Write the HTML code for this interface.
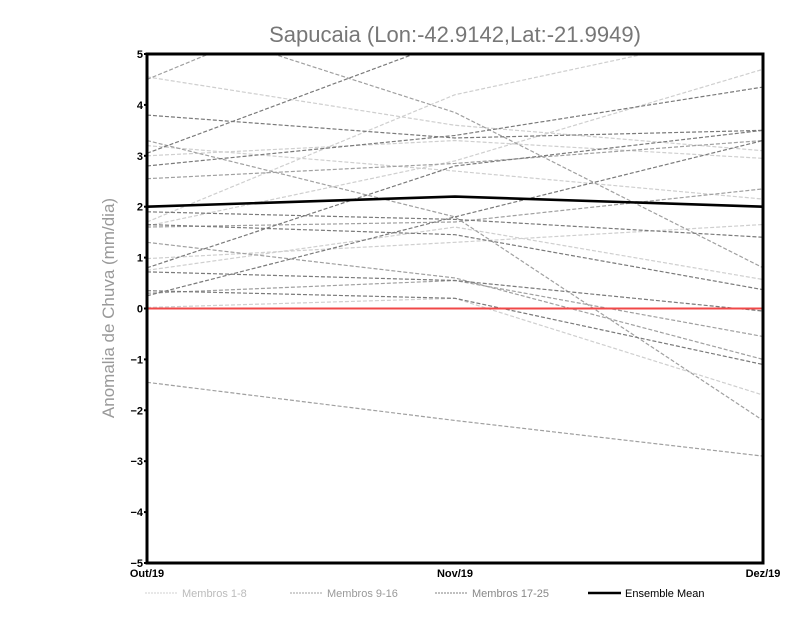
<!DOCTYPE html>
<html><head><meta charset="utf-8"><style>
body{margin:0;background:#fff;width:800px;height:618px;overflow:hidden}
svg{display:block}
</style></head><body>
<svg id="chart" width="800" height="618">
<text x="455" y="42" text-anchor="middle" font-family="Liberation Sans, sans-serif" font-size="22" fill="#777">Sapucaia (Lon:-42.9142,Lat:-21.9949)</text>
<text transform="translate(114,308) rotate(-90)" text-anchor="middle" font-family="Liberation Sans, sans-serif" font-size="17" fill="#999">Anomalia de Chuva (mm/dia)</text>
<defs><clipPath id="pc"><rect x="147" y="54" width="616" height="509"/></clipPath></defs>
<g id="series" clip-path="url(#pc)"></g>
<g id="axes"></g>
<g id="legend"></g>
</svg>
<script>
const categories=["Out/19","Nov/19","Dez/19"];
const yTicks=[5,4,3,2,1,0,-1,-2,-3,-4,-5];
const members1to8=[[4.55,3.6,3.1],[1.7,4.2,5.5],[3.0,3.3,2.95],[0.98,1.3,1.65],[0.75,1.6,0.57],[0.02,0.2,-1.7],[3.2,2.7,2.15],[1.62,2.9,4.7]];
const members9to16=[[4.5,7.0,8.0],[5.8,3.85,0.8],[2.55,2.85,3.3],[1.6,1.7,2.35],[0.3,0.55,-0.55],[1.3,0.6,-1.0],[-1.45,-2.2,-2.9],[3.3,1.8,-2.2]];
const members17to25=[[3.05,5.3,7.0],[2.8,3.4,4.35],[1.9,1.75,1.4],[0.8,2.8,3.5],[0.25,1.8,3.3],[0.72,0.55,-0.05],[0.35,0.2,-1.1],[3.8,3.35,3.5],[1.65,1.45,0.37]];
const ensembleMean=[2.0,2.2,2.0];
const legendLabels=["Membros 1-8","Membros 9-16","Membros 17-25","Ensemble Mean"];

const NS="http://www.w3.org/2000/svg";
const X0=147,X1=763,Y0=54,Y1=563;
function xs(i){return X0+(X1-X0)*i/(categories.length-1);}
function ys(v){return Y1-(v+5)/10*(Y1-Y0);}
function mk(t,a,p){const e=document.createElementNS(NS,t);for(const k in a)e.setAttribute(k,a[k]);p.appendChild(e);return e;}
const S=document.getElementById('series'),A=document.getElementById('axes'),L=document.getElementById('legend');
function line(vals,color,dash,w,name){
  const pts=vals.map((v,i)=>xs(i)+","+ys(v)).join(" ");
  const e=mk('polyline',{points:pts,fill:'none',stroke:color,'stroke-width':w},S);
  if(dash)e.setAttribute('stroke-dasharray',dash);
  
  
}
members1to8.forEach((m,i)=>line(m,'#cfcfcf','4,2',1.2,'member-'+(i+1)+'-line'));
members9to16.forEach((m,i)=>line(m,'#a0a0a0','4,2',1.2,'member-'+(i+9)+'-line'));
members17to25.forEach((m,i)=>line(m,'#7a7a7a','4,2',1.2,'member-'+(i+17)+'-line'));
const z=mk('line',{x1:X0,x2:X1,y1:ys(0),y2:ys(0),stroke:'#f04848','stroke-width':2},S);


line(ensembleMean,'#000','',2.6,'ensemble-mean-line');
const fr=mk('rect',{x:X0,y:Y0,width:X1-X0,height:Y1-Y0,fill:'none',stroke:'#000','stroke-width':3},A);


yTicks.forEach(v=>{
  const t=mk('text',{x:X0-4,y:ys(v)+4,'text-anchor':'end','font-family':'Liberation Sans, sans-serif','font-size':11,'font-weight':'bold'},A);
  t.textContent=v<0?'\u2212'+(-v):v;
  
  
  mk('line',{x1:X0-3,x2:X0,y1:ys(v),y2:ys(v),stroke:'#000','stroke-width':2},A);
});
categories.forEach((c,i)=>{
  const t=mk('text',{x:xs(i),y:Y1+14,'text-anchor':'middle','font-family':'Liberation Sans, sans-serif','font-size':11,'font-weight':'bold'},A);
  t.textContent=c;
  
  
});
const lx=[145,290,435,588],lc=['#d0d0d0','#a0a0a0','#808080','#000'],tc=['#bbb','#999','#888','#000'];
legendLabels.forEach((lab,i)=>{
  const g=mk('g',{},L);
  
  
  const ln=mk('line',{x1:lx[i],x2:lx[i]+33,y1:593,y2:593,stroke:lc[i],'stroke-width':i==3?2.6:1},g);
  if(i<3)ln.setAttribute('stroke-dasharray','2,1');
  const t=mk('text',{x:lx[i]+37,y:597,'font-family':'Liberation Sans, sans-serif','font-size':11,fill:tc[i]},g);
  t.textContent=lab;
});
</script>
</body></html>
